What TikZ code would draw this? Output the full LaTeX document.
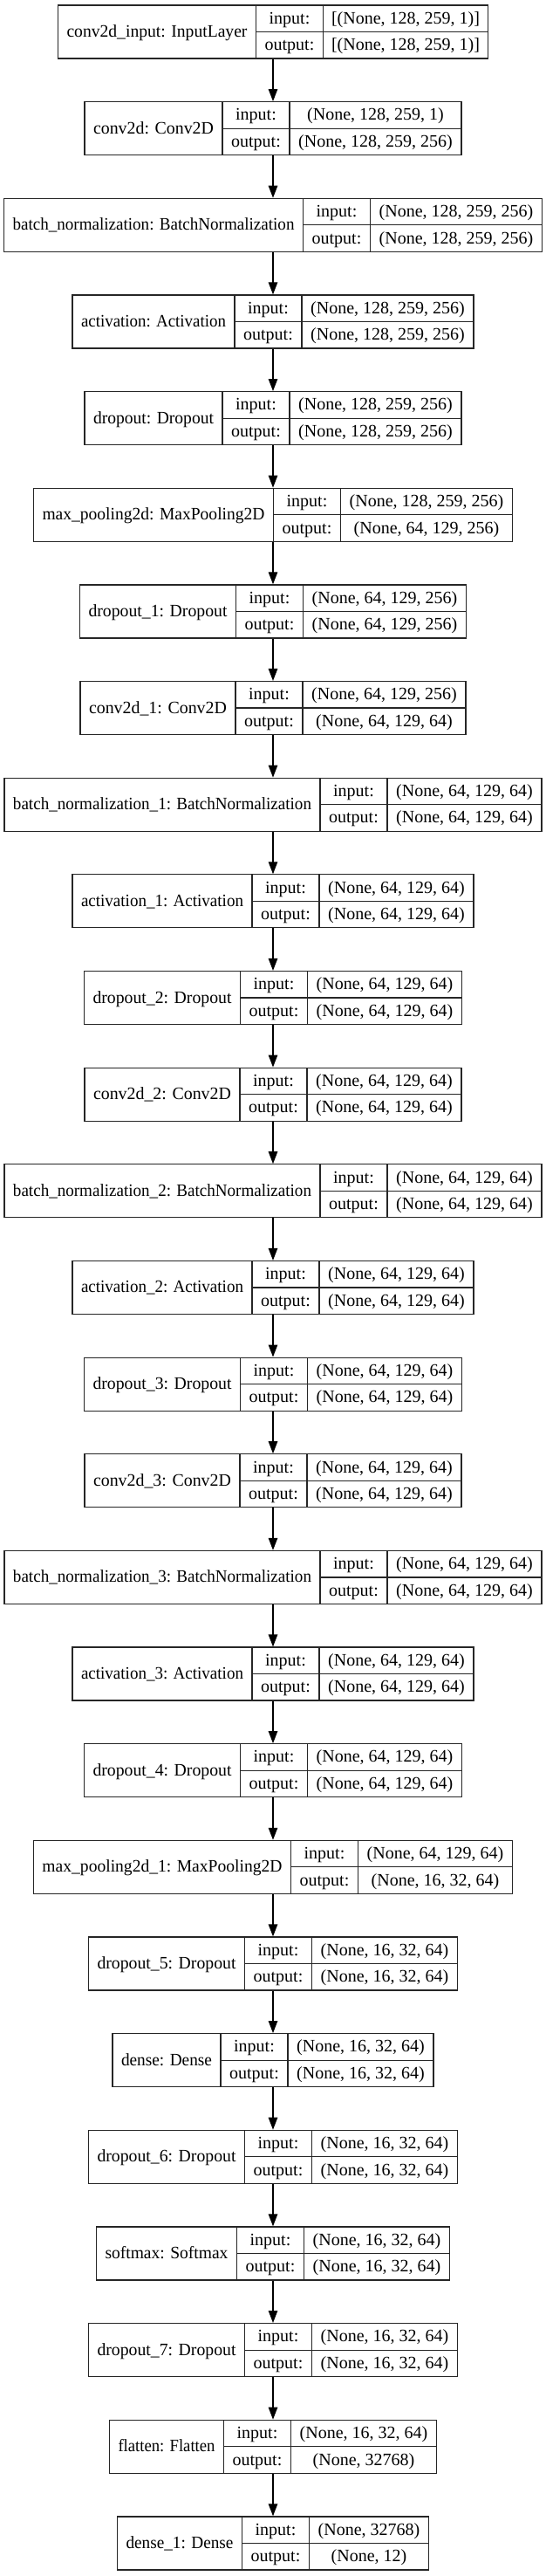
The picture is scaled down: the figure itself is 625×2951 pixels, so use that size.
\documentclass[tikz,border=0pt]{standalone}
\usepackage{fontspec}
\usepackage{graphicx}
\setmainfont{Liberation Serif}
\usetikzlibrary{arrows.meta}
\tikzset{
  layerbox/.style={draw=black!85, line width=1.2pt, rectangle, minimum height=61pt, inner sep=0pt},
  cell/.style={draw=black!85, line width=1.2pt},
  txt/.style={font=\fontsize{20}{24}\selectfont, inner sep=0pt, anchor=base},
  arr/.style={draw=black, line width=1.2pt, -{Triangle[length=14pt,width=10.5pt]}}
}
\newlength\zqlen
\newcommand\zqfit[2]{\settowidth\zqlen{#2}\pgfmathsetmacro\zqr{min(1,#1/\zqlen)}\scalebox{\zqr}[1]{#2}}
\newcommand\zqlayer[6]{%
  \pgfmathsetmacro\zqW{#2+77+#3}%
  \pgfmathsetmacro\zqL{313-\zqW/2}%
  \pgfmathsetmacro\zqA{\zqL+#2}%
  \pgfmathsetmacro\zqB{\zqA+77}%
  \pgfmathsetmacro\zqR{313+\zqW/2}%
  \pgfmathsetmacro\zqT{-(6+110.65*#1)}%
  \pgfmathsetmacro\zqC{\zqT-30.5}%
  \pgfmathsetmacro\zqD{\zqT-61}%
  \pgfmathsetmacro\zqXa{(\zqL+\zqA)/2}%
  \pgfmathsetmacro\zqXb{(\zqA+\zqB)/2}%
  \pgfmathsetmacro\zqXc{(\zqB+\zqR)/2}%
  \pgfmathsetmacro\zqYa{\zqT-21.25}%
  \pgfmathsetmacro\zqYb{\zqT-51.75}%
  \pgfmathsetmacro\zqYl{\zqC-6}%
  \pgfmathsetmacro\zqM{#2-20}%
  \node[layerbox, minimum width=\zqW pt] (L#1) at (313pt,\zqC pt) {};
  \draw[cell] (\zqA pt,\zqT pt) -- (\zqA pt,\zqD pt)
              (\zqB pt,\zqT pt) -- (\zqB pt,\zqD pt)
              (\zqA pt,\zqC pt) -- (\zqR pt,\zqC pt);
  \node[txt] (N#1) at (\zqXa pt,\zqYl pt) {\zqfit{\zqM}{#4}};
  \node[txt] (I#1) at (\zqXb pt,\zqYa pt) {input:};
  \node[txt] (O#1) at (\zqXb pt,\zqYb pt) {output:};
  \node[txt] (A#1) at (\zqXc pt,\zqYa pt) {#5};
  \node[txt] (B#1) at (\zqXc pt,\zqYb pt) {#6};
}
\begin{document}
\begin{tikzpicture}
\useasboundingbox (0,0) rectangle (625pt,-2951pt);
\zqlayer{0}{227}{189}{conv2d\_input: InputLayer}{[(None, 128, 259, 1)]}{[(None, 128, 259, 1)]}
\zqlayer{1}{158}{197}{conv2d: Conv2D}{(None, 128, 259, 1)}{(None, 128, 259, 256)}
\zqlayer{2}{343}{197}{batch\_normalization: BatchNormalization}{(None, 128, 259, 256)}{(None, 128, 259, 256)}
\zqlayer{3}{186}{197}{activation: Activation}{(None, 128, 259, 256)}{(None, 128, 259, 256)}
\zqlayer{4}{158}{197}{dropout: Dropout}{(None, 128, 259, 256)}{(None, 128, 259, 256)}
\zqlayer{5}{275}{197}{max\_pooling2d: MaxPooling2D}{(None, 128, 259, 256)}{(None, 64, 129, 256)}
\zqlayer{6}{179}{187}{dropout\_1: Dropout}{(None, 64, 129, 256)}{(None, 64, 129, 256)}
\zqlayer{7}{178}{187}{conv2d\_1: Conv2D}{(None, 64, 129, 256)}{(None, 64, 129, 64)}
\zqlayer{8}{362}{177}{batch\_normalization\_1: BatchNormalization}{(None, 64, 129, 64)}{(None, 64, 129, 64)}
\zqlayer{9}{206}{177}{activation\_1: Activation}{(None, 64, 129, 64)}{(None, 64, 129, 64)}
\zqlayer{10}{179}{177}{dropout\_2: Dropout}{(None, 64, 129, 64)}{(None, 64, 129, 64)}
\zqlayer{11}{178}{177}{conv2d\_2: Conv2D}{(None, 64, 129, 64)}{(None, 64, 129, 64)}
\zqlayer{12}{362}{177}{batch\_normalization\_2: BatchNormalization}{(None, 64, 129, 64)}{(None, 64, 129, 64)}
\zqlayer{13}{206}{177}{activation\_2: Activation}{(None, 64, 129, 64)}{(None, 64, 129, 64)}
\zqlayer{14}{179}{177}{dropout\_3: Dropout}{(None, 64, 129, 64)}{(None, 64, 129, 64)}
\zqlayer{15}{178}{177}{conv2d\_3: Conv2D}{(None, 64, 129, 64)}{(None, 64, 129, 64)}
\zqlayer{16}{362}{177}{batch\_normalization\_3: BatchNormalization}{(None, 64, 129, 64)}{(None, 64, 129, 64)}
\zqlayer{17}{206}{177}{activation\_3: Activation}{(None, 64, 129, 64)}{(None, 64, 129, 64)}
\zqlayer{18}{179}{177}{dropout\_4: Dropout}{(None, 64, 129, 64)}{(None, 64, 129, 64)}
\zqlayer{19}{295}{177}{max\_pooling2d\_1: MaxPooling2D}{(None, 64, 129, 64)}{(None, 16, 32, 64)}
\zqlayer{20}{179}{167}{dropout\_5: Dropout}{(None, 16, 32, 64)}{(None, 16, 32, 64)}
\zqlayer{21}{124}{167}{dense: Dense}{(None, 16, 32, 64)}{(None, 16, 32, 64)}
\zqlayer{22}{179}{167}{dropout\_6: Dropout}{(None, 16, 32, 64)}{(None, 16, 32, 64)}
\zqlayer{23}{161}{167}{softmax: Softmax}{(None, 16, 32, 64)}{(None, 16, 32, 64)}
\zqlayer{24}{179}{167}{dropout\_7: Dropout}{(None, 16, 32, 64)}{(None, 16, 32, 64)}
\zqlayer{25}{131}{167}{flatten: Flatten}{(None, 16, 32, 64)}{(None, 32768)}
\zqlayer{26}{143}{137}{dense\_1: Dense}{(None, 32768)}{(None, 12)}
\foreach \i in {0,...,25} {
  \pgfmathtruncatemacro\zqj{\i+1}
  \draw[arr] (L\i.south) -- (L\zqj.north);
}
\end{tikzpicture}
\end{document}
